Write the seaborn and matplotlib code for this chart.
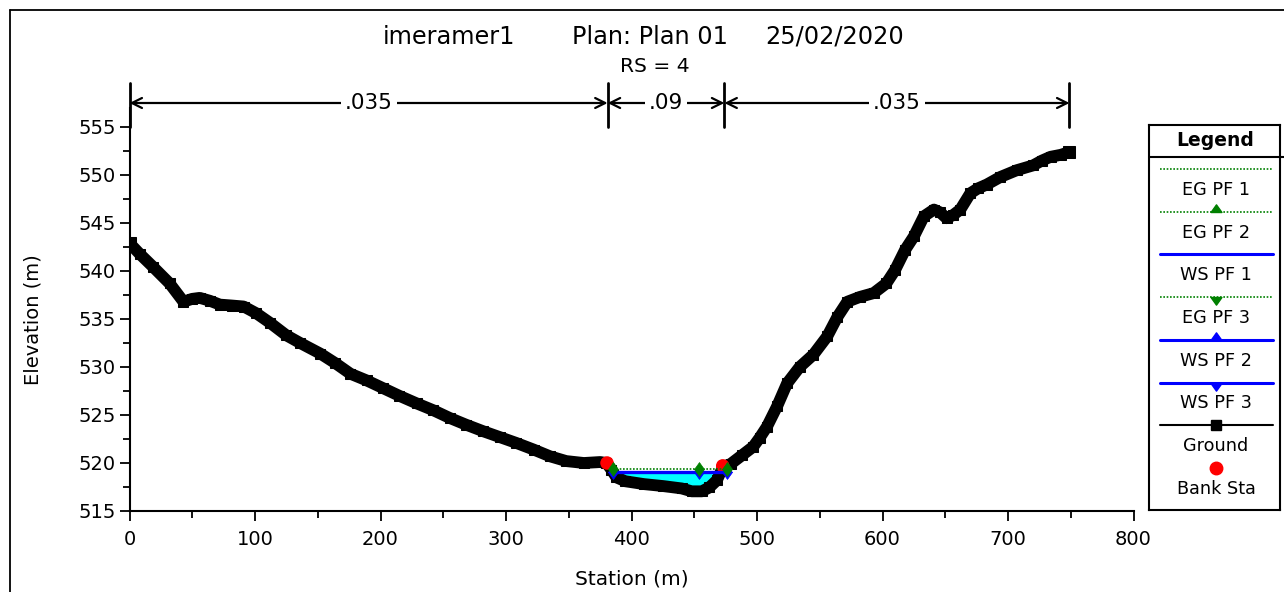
import numpy as np
import pandas as pd
import matplotlib
matplotlib.use('Agg')
import matplotlib.pyplot as plt
import seaborn as sns
from matplotlib.lines import Line2D
from matplotlib.ticker import MultipleLocator

# ---------------- data ----------------
ground_sta = [0, 8, 19, 32, 43, 50, 56, 64, 72, 82, 91, 101, 112, 125, 136, 152, 164,
              176, 189, 202, 215, 229, 242, 255, 268, 282, 295, 308, 322, 335, 348, 362,
              375, 380, 384, 388, 395, 410, 425, 440, 448, 456, 462, 468, 473, 479, 488,
              497, 502, 508, 516, 524, 534, 545, 556, 564, 572, 582, 593, 603, 610, 618,
              625, 633, 641, 646, 651, 656, 662, 670, 676, 683, 694, 707, 720, 727, 734,
              742, 749]
ground_elev = [542.9, 541.8, 540.4, 538.7, 536.8, 537.1, 537.2, 536.9, 536.5, 536.4, 536.3,
               535.6, 534.6, 533.3, 532.5, 531.4, 530.4, 529.3, 528.6, 527.8, 527.0, 526.2,
               525.5, 524.7, 524.0, 523.3, 522.7, 522.1, 521.4, 520.7, 520.2, 520.0, 520.1,
               520.0, 519.3, 518.5, 518.1, 517.8, 517.6, 517.35, 517.05, 517.05, 517.45, 518.2,
               519.6, 519.9, 520.8, 521.7, 522.6, 523.8, 525.9, 528.3, 530.0, 531.3, 533.2,
               535.2, 536.8, 537.3, 537.7, 538.7, 540.1, 542.2, 543.6, 545.7, 546.4, 546.1,
               545.5, 545.8, 546.4, 548.1, 548.6, 549.0, 549.8, 550.5, 551.0, 551.5, 551.9,
               552.1, 552.4]
bank_sta = [380.5, 472.7]
bank_elev = [520.0, 519.7]
ws_sta = [385.5, 454, 476]          # stations of the water-surface marks
ws_pf = [519.05, 519.05, 519.05]    # WS PF 1/2/3 (identical)
eg_pf = [519.35, 519.35, 519.35]    # EG PF 1/2/3 (identical)
n_bounds = [0, 381, 474, 749]
n_values = ['.035', '.09', '.035']

title_parts = ['imeramer1', 'Plan: Plan 01', '25/02/2020']
subtitle = 'RS = 4'
legend_labels = ['EG PF 1', 'EG PF 2', 'WS PF 1', 'EG PF 3', 'WS PF 2', 'WS PF 3',
                 'Ground', 'Bank Sta']

# ---------------- style ----------------
sns.set_theme(style='white')
plt.rcParams['font.family'] = ['DejaVu Sans']
plt.rcParams['text.color'] = 'black'
plt.rcParams['axes.labelcolor'] = 'black'
plt.rcParams['xtick.color'] = 'black'
plt.rcParams['ytick.color'] = 'black'

W, H = 1284, 592
fig = plt.figure(figsize=(W / 100, H / 100), dpi=100)
fig.patch.set_facecolor('white')
ax = fig.add_axes([129.5 / W, 81 / H, 1004 / W, 403.2 / H])
ax.set_xlim(0, 800)
ax.set_ylim(515, 557)

ground = pd.DataFrame({'Station': ground_sta, 'Elevation': ground_elev})
GREEN = '#008000'
BLUE = '#0000FF'
UP = [(-1, 0), (1, 0), (0, 1.4), (-1, 0)]     # triangle with base on the point
DOWN = [(-1, 0), (1, 0), (0, -1.4), (-1, 0)]

# water fill (cyan) between WS and ground
xx = np.linspace(ws_sta[0], ws_sta[-1], 300)
gi = np.interp(xx, ground_sta, ground_elev)
ax.fill_between(xx, gi, ws_pf[0], where=gi < ws_pf[0], color='#00FFFF', lw=0, zorder=1)

# ground
sns.lineplot(data=ground, x='Station', y='Elevation', sort=False, color='black', lw=8.5,
             marker='s', markersize=6.5, markeredgecolor='black', ax=ax, zorder=3,
             solid_joinstyle='round')
sns.lineplot(data=ground, x='Station', y='Elevation', sort=False, color='black', lw=0,
             marker='s', markersize=8.5, markeredgecolor='black', ax=ax, zorder=3,
             markevery=[0, len(ground_sta) - 1])
# bank stations
sns.scatterplot(x=bank_sta, y=bank_elev, color='red', s=95, edgecolor='none', ax=ax, zorder=4)

ws_df = pd.DataFrame({'Station': ws_sta, 'WS': ws_pf, 'EG': eg_pf})
# WS lines
sns.lineplot(data=ws_df, x='Station', y='WS', color=BLUE, lw=2.4, ax=ax, zorder=5)
for mk in (UP, DOWN):
    sns.lineplot(data=ws_df, x='Station', y='WS', color=BLUE, lw=0, marker=mk, markersize=10,
                 markeredgecolor=BLUE, markeredgewidth=0.5, ax=ax, zorder=5)
# EG lines
sns.lineplot(data=ws_df, x='Station', y='EG', color=GREEN, lw=1.2, ls=(0, (1, 1)), ax=ax, zorder=6)
for mk in (UP, DOWN):
    sns.lineplot(data=ws_df, x='Station', y='EG', color=GREEN, lw=0, marker=mk, markersize=10,
                 markeredgecolor=GREEN, markeredgewidth=0.5, ax=ax, zorder=6)

# Manning's n annotations
for s in n_bounds:
    ax.plot([s, s], [555.0, 559.6], color='black', lw=2, clip_on=False, zorder=7)
for i, val in enumerate(n_values):
    a, b = n_bounds[i], n_bounds[i + 1]
    ax.annotate('', xy=(a, 557.5), xytext=(b, 557.5), annotation_clip=False,
                arrowprops=dict(arrowstyle='<->', lw=1.6, color='black',
                                shrinkA=0, shrinkB=0, mutation_scale=18))
    ax.text((a + b) / 2, 557.5, val, ha='center', va='center', fontsize=15.5, color='black',
            bbox=dict(facecolor='white', edgecolor='none', pad=3), clip_on=False, zorder=8)

# axes styling
for side in ['top', 'right']:
    ax.spines[side].set_visible(False)
for side in ['left', 'bottom']:
    ax.spines[side].set_color('black')
    ax.spines[side].set_linewidth(1.5)
ax.xaxis.set_major_locator(MultipleLocator(100))
ax.xaxis.set_minor_locator(MultipleLocator(50))
ax.yaxis.set_major_locator(MultipleLocator(5))
ax.yaxis.set_minor_locator(MultipleLocator(2.5))
ax.tick_params(which='both', bottom=True, left=True, direction='out', color='black',
               width=1.3, labelsize=14, labelcolor='black')
ax.tick_params(which='major', length=7)
ax.tick_params(axis='x', which='major', pad=7)
ax.tick_params(axis='y', which='major', pad=3)
ax.tick_params(which='minor', length=5)
ax.set_xlabel('Station (m)', fontsize=14.5, color='black')
ax.set_ylabel('Elevation (m)', fontsize=14, color='black')
ax.xaxis.set_label_coords(0.5, -0.146)
ax.yaxis.set_label_coords(-0.087, 0.474)

# title
for txt, xc in zip(title_parts, [449, 650, 835]):
    fig.text(xc / W, 1 - 37 / H, txt, ha='center', va='center', fontsize=17.3, color='black')
fig.text(655 / W, 1 - 67 / H, subtitle, ha='center', va='center', fontsize=14.6, color='black')

# outer frame
fig.add_artist(Line2D([10 / W, 10 / W], [0, 1 - 10 / H], transform=fig.transFigure,
                      color='black', lw=1.3))
fig.add_artist(Line2D([10 / W, 1], [1 - 10 / H, 1 - 10 / H], transform=fig.transFigure,
                      color='black', lw=1.3))

# legend box
lax = fig.add_axes([1149 / W, (H - 510) / H, 131 / W, 385 / H])
lax.set_xlim(1149, 1280)
lax.set_ylim(510, 125)
lax.set_xticks([])
lax.set_yticks([])
for sp in lax.spines.values():
    sp.set_visible(True)
    sp.set_color('black')
    sp.set_linewidth(1.5)
lax.text(1215, 140, 'Legend', ha='center', va='center', fontsize=13.5, fontweight='bold',
         color='black')
lax.plot([1149, 1284], [157, 157], color='black', lw=1.5, clip_on=False)
styles = [
    dict(color=GREEN, lw=1.2, ls=(0, (1, 1)), marker=None),
    dict(color=GREEN, lw=1.2, ls=(0, (1, 1)), marker=UP),
    dict(color=BLUE, lw=2.2, ls='-', marker=None),
    dict(color=GREEN, lw=1.2, ls=(0, (1, 1)), marker=DOWN),
    dict(color=BLUE, lw=2.2, ls='-', marker=UP),
    dict(color=BLUE, lw=2.2, ls='-', marker=DOWN),
    dict(color='black', lw=1.5, ls='-', marker='s'),
    dict(color='red', lw=0, ls='none', marker='o'),
]
for i, (lab, st) in enumerate(zip(legend_labels, styles)):
    ys = 169 + 42.7 * i
    yl = 190 + 42.7 * i
    if st['lw'] > 0:
        lax.plot([1160, 1273], [ys, ys], color=st['color'], lw=st['lw'], ls=st['ls'])
    if st['marker'] is not None:
        if isinstance(st['marker'], str):
            ms = 9 if st['marker'] == 'o' else 7
        else:
            ms = 11
        lax.plot([1216], [ys], marker=st['marker'], color=st['color'], ms=ms, ls='none')
    lax.text(1216, yl, lab, ha='center', va='center', fontsize=12.7, color='black')

fig.savefig('out.png', dpi=100, facecolor='white')
